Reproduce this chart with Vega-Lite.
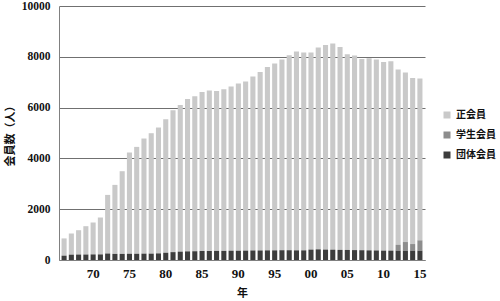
{
  "$schema": "https://vega.github.io/schema/vega-lite/v6.json",
  "autosize": {"type": "none"},
  "padding": {"left": 59, "top": 6, "right": 75, "bottom": 41},
  "width": 366,
  "height": 254,
  "background": "white",
  "data": {
    "values": [
      {"year": 1966, "正会員": 680, "学生会員": 0, "団体会員": 170},
      {"year": 1967, "正会員": 833, "学生会員": 0, "団体会員": 210},
      {"year": 1968, "正会員": 958, "学生会員": 0, "団体会員": 215},
      {"year": 1969, "正会員": 1116, "学生会員": 0, "団体会員": 215},
      {"year": 1970, "正会員": 1256, "学生会員": 0, "団体会員": 220},
      {"year": 1971, "正会員": 1453, "学生会員": 0, "団体会員": 220},
      {"year": 1972, "正会員": 2308, "学生会員": 0, "団体会員": 255},
      {"year": 1973, "正会員": 2717, "学生会員": 0, "団体会員": 240},
      {"year": 1974, "正会員": 3256, "学生会員": 0, "団体会員": 240},
      {"year": 1975, "正会員": 3987, "学生会員": 0, "団体会員": 245},
      {"year": 1976, "正会員": 4208, "学生会員": 0, "団体会員": 245},
      {"year": 1977, "正会員": 4533, "学生会員": 0, "団体会員": 250},
      {"year": 1978, "正会員": 4742, "学生会員": 0, "団体会員": 250},
      {"year": 1979, "正会員": 4956, "学生会員": 0, "団体会員": 260},
      {"year": 1980, "正会員": 5258, "学生会員": 0, "団体会員": 285},
      {"year": 1981, "正会員": 5588, "学生会員": 0, "団体会員": 310},
      {"year": 1982, "正会員": 5776, "学生会員": 0, "団体会員": 330},
      {"year": 1983, "正会員": 6000, "学生会員": 0, "団体会員": 340},
      {"year": 1984, "正会員": 6104, "学生会員": 0, "団体会員": 345},
      {"year": 1985, "正会員": 6263, "学生会員": 0, "団体会員": 355},
      {"year": 1986, "正会員": 6318, "学生会員": 0, "団体会員": 355},
      {"year": 1987, "正会員": 6297, "学生会員": 0, "団体会員": 360},
      {"year": 1988, "正会員": 6364, "学生会員": 0, "団体会員": 360},
      {"year": 1989, "正会員": 6465, "学生会員": 0, "団体会員": 365},
      {"year": 1990, "正会員": 6583, "学生会員": 0, "団体会員": 365},
      {"year": 1991, "正会員": 6657, "学生会員": 0, "団体会員": 370},
      {"year": 1992, "正会員": 6849, "学生会員": 0, "団体会員": 375},
      {"year": 1993, "正会員": 7031, "学生会員": 0, "団体会員": 375},
      {"year": 1994, "正会員": 7223, "学生会員": 0, "団体会員": 380},
      {"year": 1995, "正会員": 7356, "学生会員": 0, "団体会員": 380},
      {"year": 1996, "正会員": 7508, "学生会員": 0, "団体会員": 385},
      {"year": 1997, "正会員": 7678, "学生会員": 0, "団体会員": 385},
      {"year": 1998, "正会員": 7828, "学生会員": 0, "団体会員": 380},
      {"year": 1999, "正会員": 7789, "学生会員": 0, "団体会員": 380},
      {"year": 2000, "正会員": 7759, "学生会員": 0, "団体会員": 410},
      {"year": 2001, "正会員": 7946, "学生会員": 0, "団体会員": 420},
      {"year": 2002, "正会員": 8059, "学生会員": 0, "団体会員": 410},
      {"year": 2003, "正会員": 8119, "学生会員": 0, "団体会員": 405},
      {"year": 2004, "正会員": 7990, "学生会員": 0, "団体会員": 400},
      {"year": 2005, "正会員": 7707, "学生会員": 0, "団体会員": 395},
      {"year": 2006, "正会員": 7661, "学生会員": 0, "団体会員": 390},
      {"year": 2007, "正会員": 7532, "学生会員": 0, "団体会員": 385},
      {"year": 2008, "正会員": 7565, "学生会員": 0, "団体会員": 380},
      {"year": 2009, "正会員": 7518, "学生会員": 0, "団体会員": 375},
      {"year": 2010, "正会員": 7430, "学生会員": 0, "団体会員": 370},
      {"year": 2011, "正会員": 7457, "学生会員": 0, "団体会員": 370},
      {"year": 2012, "正会員": 6906, "学生会員": 224, "団体会員": 370},
      {"year": 2013, "正会員": 6675, "学生会員": 342, "団体会員": 365},
      {"year": 2014, "正会員": 6542, "学生会員": 263, "団体会員": 365},
      {"year": 2015, "正会員": 6373, "学生会員": 407, "団体会員": 365}
    ]
  },
  "transform": [
    {"fold": ["正会員", "学生会員", "団体会員"], "as": ["type", "count"]}
  ],
  "mark": {"type": "bar"},
  "encoding": {
    "x": {
      "field": "year",
      "type": "ordinal",
      "scale": {"paddingInner": 0.3, "paddingOuter": 0.35},
      "axis": {
        "values": [1970, 1975, 1980, 1985, 1990, 1995, 2000, 2005, 2010, 2015],
        "labelExpr": "substring(datum.label, 2)",
        "labelAngle": 0,
        "ticks": false,
        "domainColor": "#808080",
        "domainWidth": 1,
        "labelFont": "Liberation Serif",
        "labelFontWeight": "bold",
        "labelFontSize": 13,
        "labelColor": "#111111",
        "labelPadding": 7,
        "title": "年",
        "titleFont": "Noto Sans CJK JP",
        "titleFontWeight": "bold",
        "titleFontSize": 11,
        "titleColor": "#111111",
        "titlePadding": 7
      }
    },
    "y": {
      "field": "count",
      "type": "quantitative",
      "stack": "zero",
      "scale": {"domain": [0, 10000], "nice": false},
      "axis": {
        "values": [0, 2000, 4000, 6000, 8000, 10000],
        "format": "d",
        "ticks": false,
        "grid": true,
        "gridColor": "#707070",
        "gridWidth": 1,
        "domainColor": "#808080",
        "domainWidth": 1,
        "labelFont": "Liberation Serif",
        "labelFontWeight": "bold",
        "labelFontSize": 11.5,
        "labelColor": "#111111",
        "labelPadding": 9,
        "title": "会員数（人）",
        "titleFont": "Noto Sans CJK JP",
        "titleFontWeight": "bold",
        "titleFontSize": 11,
        "titleColor": "#111111",
        "titlePadding": 6
      }
    },
    "color": {
      "field": "type",
      "type": "nominal",
      "scale": {
        "domain": ["正会員", "学生会員", "団体会員"],
        "range": ["#c9c9c9", "#8d8d8d", "#3d3d3d"]
      },
      "legend": {
        "title": null,
        "orient": "none",
        "legendX": 383,
        "legendY": 104,
        "symbolType": "square",
        "symbolSize": 49,
        "symbolStrokeWidth": 0,
        "labelFont": "Noto Sans CJK JP",
        "labelFontWeight": "bold",
        "labelFontSize": 10,
        "labelColor": "#111111",
        "labelOffset": 4,
        "rowPadding": 10
      }
    },
    "order": {"field": "type", "sort": "ascending"}
  },
  "config": {
    "view": {"stroke": null}
  }
}
